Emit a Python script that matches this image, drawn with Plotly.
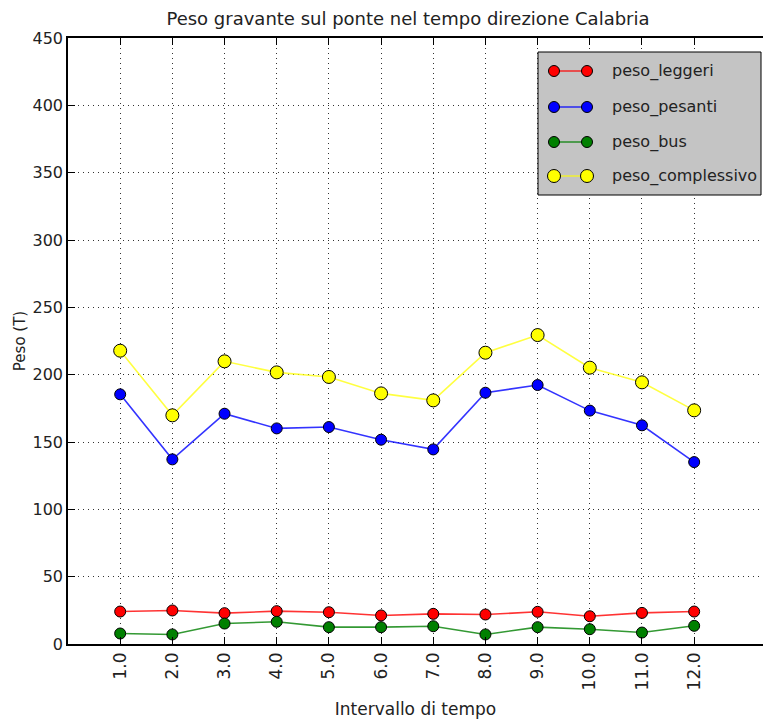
import plotly.graph_objects as go

# Time intervals and weights (tonnes) per vehicle class
intervals = [1, 2, 3, 4, 5, 6, 7, 8, 9, 10, 11, 12]
tick_labels = ["1.0", "2.0", "3.0", "4.0", "5.0", "6.0", "7.0", "8.0", "9.0", "10.0", "11.0", "12.0"]

peso_leggeri = [24.1, 24.9, 22.9, 24.4, 23.6, 21.2, 22.4, 21.9, 23.9, 20.6, 23.1, 24.1]
peso_pesanti = [185.4, 137.1, 171.0, 160.1, 161.1, 151.7, 144.5, 186.6, 192.3, 173.3, 162.4, 135.1]
peso_bus = [7.8, 7.1, 15.2, 16.5, 12.5, 12.5, 13.2, 7.1, 12.5, 11.0, 8.5, 13.5]
peso_complessivo = [217.8, 169.8, 209.9, 201.7, 198.3, 186.1, 180.9, 216.3, 229.4, 205.2, 194.3, 173.5]

series_names = ["peso_leggeri", "peso_pesanti", "peso_bus", "peso_complessivo"]
series_values = [peso_leggeri, peso_pesanti, peso_bus, peso_complessivo]
line_colors = ["rgba(255,0,0,0.8)", "rgba(0,0,255,0.8)", "rgba(0,128,0,0.8)", "rgba(255,255,0,0.75)"]
marker_colors = ["#ff0000", "#0000ff", "#008000", "#ffff00"]
marker_sizes = [11, 11, 11, 13]

FONT = "DejaVu Sans"
W, H = 763, 722
L, T, B, R = 68, 38, 78, 0
PW, PH = W - L - R, H - T - B

fig = go.Figure()
for name, vals, lc, mc, ms in zip(series_names, series_values, line_colors, marker_colors, marker_sizes):
    fig.add_trace(go.Scatter(
        x=intervals, y=vals, name=name, mode="lines+markers",
        line=dict(color=lc, width=1.6),
        marker=dict(color=mc, size=ms, line=dict(color="black", width=1)),
        showlegend=False,
    ))


def px_x(px):
    return (px - L) / PW


def px_y(py):
    return (H - B - py) / PH


# Legend box with marker-line-marker samples
shapes = [dict(type="rect", xref="paper", yref="paper",
               x0=px_x(538), x1=px_x(761), y0=px_y(195), y1=px_y(52),
               fillcolor="#c4c4c4", line=dict(color="black", width=1), layer="above")]
annotations = []
row_y = [71, 107, 142, 176]
for name, lc, mc, ms, ry in zip(series_names, line_colors, marker_colors, marker_sizes, row_y):
    shapes.append(dict(type="line", xref="paper", yref="paper",
                       x0=px_x(554), x1=px_x(587), y0=px_y(ry), y1=px_y(ry),
                       line=dict(color=lc, width=1.6), layer="above"))
    for cx in (554, 587):
        shapes.append(dict(type="circle", xref="paper", yref="paper",
                           xsizemode="pixel", ysizemode="pixel",
                           xanchor=px_x(cx), yanchor=px_y(ry),
                           x0=-ms / 2, x1=ms / 2, y0=-ms / 2, y1=ms / 2,
                           fillcolor=mc, line=dict(color="black", width=1), layer="above"))
    annotations.append(dict(xref="paper", yref="paper", x=px_x(610), y=px_y(ry),
                            xanchor="left", yanchor="middle", text=name, showarrow=False,
                            font=dict(family=FONT, size=16, color="#222")))

fig.update_layout(
    width=W, height=H,
    margin=dict(l=L, r=R, t=T, b=B, pad=0),
    paper_bgcolor="white", plot_bgcolor="white",
    title=dict(text="Peso gravante sul ponte nel tempo direzione Calabria",
               x=408 / W, xanchor="center", y=1 - 19 / H, yanchor="middle",
               font=dict(family=FONT, size=18, color="#222")),
    font=dict(family=FONT, size=16, color="#222"),
    shapes=shapes, annotations=annotations,
)

GRID_DASH = "1px,4px"

fig.update_xaxes(
    range=[0, PW / 52.18], tickmode="array", tickvals=intervals, ticktext=tick_labels,
    tickangle=-90, ticks="inside", ticklen=7, tickcolor="black", tickwidth=1,
    showline=True, linecolor="black", linewidth=1.5, mirror="ticks",
    showgrid=True, gridcolor="#333", griddash=GRID_DASH, gridwidth=1.3,
    zeroline=False, tickfont=dict(family=FONT, size=17, color="#222"),
    title=dict(text="Intervallo di tempo", font=dict(family=FONT, size=17, color="#222"), standoff=14),
)
fig.update_yaxes(
    range=[0, 450], tickmode="array", tickvals=list(range(0, 451, 50)),
    ticks="inside", ticklen=7, tickcolor="black", tickwidth=1,
    showline=True, linecolor="black", linewidth=1.5, mirror=False,
    showgrid=True, gridcolor="#333", griddash=GRID_DASH, gridwidth=1.3,
    zeroline=False, tickfont=dict(family=FONT, size=16, color="#222"),
    title=dict(text="Peso (T)", font=dict(family=FONT, size=15, color="#222"), standoff=3),
)

fig.write_html("out.html")
